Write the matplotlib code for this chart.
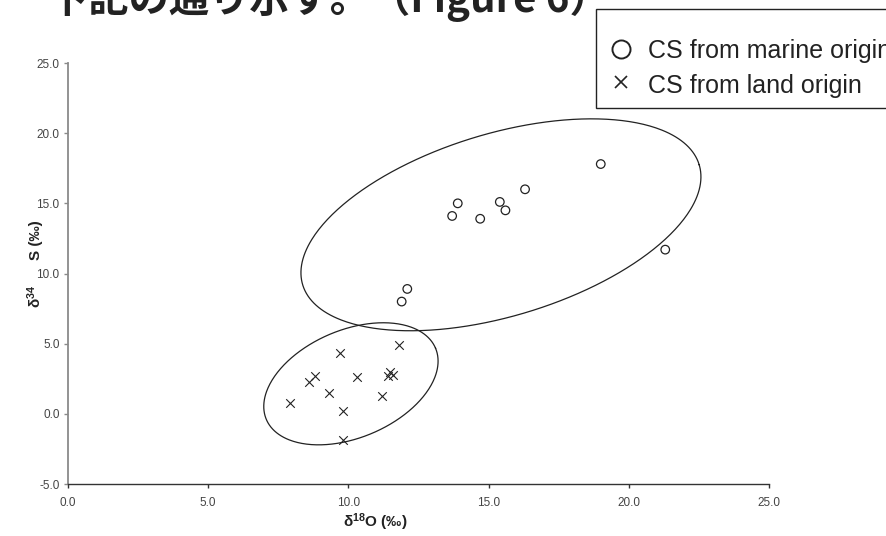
import numpy as np
import matplotlib
matplotlib.use("Agg")
import matplotlib.pyplot as plt
from matplotlib.lines import Line2D
from matplotlib.patches import Rectangle

plt.rcParams["font.family"] = ["Liberation Sans", "DejaVu Sans"]
plt.rcParams["mathtext.fontset"] = "custom"
plt.rcParams["mathtext.rm"] = "Liberation Sans"
plt.rcParams["mathtext.bf"] = "Liberation Sans:bold"

# ── data ──────────────────────────────────────────────────────────────────────
marine_x = [19.0, 16.3, 13.9, 15.4, 15.6, 13.7, 14.7, 21.3, 12.1, 11.9]
marine_y = [17.8, 16.0, 15.0, 15.1, 14.5, 14.1, 13.9, 11.7, 8.9, 8.0]

land_x = [9.7, 11.8, 8.8, 8.6, 10.3, 11.5, 11.6, 11.4, 9.3, 11.2, 7.9, 9.8, 9.8]
land_y = [4.3, 4.9, 2.7, 2.3, 2.6, 3.0, 2.8, 2.7, 1.5, 1.3, 0.8, 0.2, -1.9]

# hand-drawn grouping ellipses: centre and two conjugate half-axes (data units)
ell_marine = dict(c=(15.44, 13.47), u=(7.07, 4.28), v=(-0.943, 6.22))
ell_land = dict(c=(10.09, 2.14), u=(3.018, 2.535), v=(-0.744, 3.535))

x_ticks = [0, 5, 10, 15, 20, 25]
y_ticks = [-5, 0, 5, 10, 15, 20, 25]

labels = ["CS from marine origin", "CS from land origin"]
title = "下記の通り示す。（Figure 6）"

W, H = 886, 536
fig = plt.figure(figsize=(W / 100, H / 100), dpi=100)
ax = fig.add_axes([68 / W, 1 - 484 / H, (769 - 68) / W, (484 - 63) / H])

ink = "#222222"
ax.scatter(marine_x, marine_y, marker="o", s=38, facecolors="none",
           edgecolors=ink, linewidths=0.9, zorder=3)
ax.scatter(land_x, land_y, marker="x", s=38, color=ink, linewidths=0.8,
           zorder=3)

t = np.linspace(0, 2 * np.pi, 400)
for e in (ell_marine, ell_land):
    cx, cy = e["c"]
    ux, uy = e["u"]
    vx, vy = e["v"]
    ax.plot(cx + ux * np.cos(t) + vx * np.sin(t),
            cy + uy * np.cos(t) + vy * np.sin(t), color=ink, lw=0.9)

ax.set_xlim(0, 25)
ax.set_ylim(-5, 25)
ax.set_xticks(x_ticks)
ax.set_yticks(y_ticks)
ax.set_xticklabels([f"{v:.1f}" for v in x_ticks])
ax.set_yticklabels([f"{v:.1f}" for v in y_ticks])

for s in ("top", "right"):
    ax.spines[s].set_visible(False)
ax.spines["left"].set_color("#8a8a8a")
ax.spines["left"].set_linewidth(1.3)
ax.spines["bottom"].set_color("#333333")
ax.spines["bottom"].set_linewidth(1.0)
ax.tick_params(axis="y", direction="out", length=3, width=1.0,
               color="#8a8a8a", labelsize=8.5, labelcolor="#444444", pad=3)
ax.tick_params(axis="x", direction="out", length=3, width=1.0,
               color="#333333", labelsize=8.5, labelcolor="#444444", pad=6)

ax.set_xlabel(r"$\mathbf{\delta^{18}}$O (‰)", fontsize=11,
              fontweight="bold", color=ink)
ax.xaxis.set_label_coords((375 - 68) / 701, (484 - 511) / 421)

# y title: the source shows it in two pieces with a gap around the 10.0 tick
ax.text((35 - 68) / 701, (484 - 296) / 421, r"$\mathbf{\delta^{34}}$",
        transform=ax.transAxes, rotation=90, ha="center", va="center",
        fontsize=11, fontweight="bold", color=ink)
ax.text((36 - 68) / 701, (484 - 240) / 421, "S (‰)",
        transform=ax.transAxes, rotation=90, ha="center", va="center",
        fontsize=11, fontweight="bold", color=ink)

# cut-off heading from the page above the chart
fig.text(48 / W, 1 - 12 / H, title, fontsize=29, fontweight="bold",
         family=["Noto Sans CJK JP", "DejaVu Sans"], color=ink,
         va="baseline")

# legend box (runs off the right edge as in the source)
fig.add_artist(Rectangle((596 / W, 1 - 108 / H), 320 / W, 99 / H,
                         transform=fig.transFigure, fill=True, fc="white",
                         ec=ink, lw=1.0))
fig.add_artist(Line2D([621 / W], [1 - 49 / H], transform=fig.transFigure,
                      marker="o", ms=13, mfc="none", mec=ink, mew=1.4))
fig.add_artist(Line2D([621 / W], [1 - 82 / H], transform=fig.transFigure,
                      marker="x", ms=8.5, mec=ink, mew=1.2))
fig.text(648 / W, 1 - 58 / H, labels[0], fontsize=18, color=ink,
         va="baseline")
fig.text(648 / W, 1 - 93 / H, labels[1], fontsize=18, color=ink,
         va="baseline")

fig.savefig("out.png", dpi=100)
